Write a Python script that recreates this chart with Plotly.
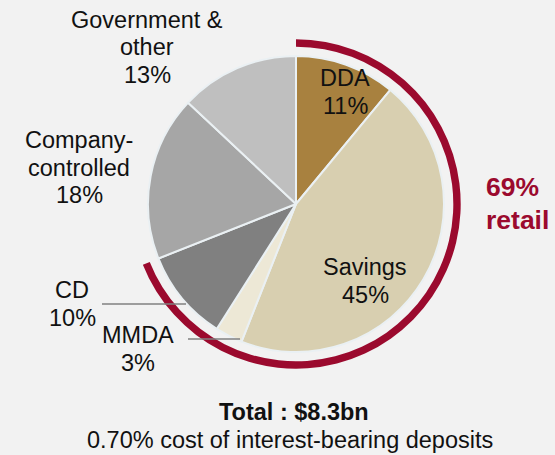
import plotly.graph_objects as go

# ---- data ----
categories = ["DDA", "Savings", "MMDA", "CD", "Company-controlled", "Government & other"]
values = [11, 45, 3, 10, 18, 13]
colors = ["#A8813F", "#D8CFB0", "#EDE8D6", "#808080", "#A6A6A6", "#BFBFBF"]
retail_categories = ["DDA", "Savings", "MMDA", "CD"]
total_label = "Total : $8.3bn"
cost_label = "0.70% cost of interest-bearing deposits"

retail_share = sum(v for c, v in zip(categories, values) if c in retail_categories)
other_share = sum(values) - retail_share

W, H = 555, 455
FONT = "Liberation Sans, Arial, sans-serif"
RED = "#9B0A2E"
FS = 23.5


def px(x):
    return x / W


def py(y):
    return 1 - y / H


cx, cy, r = 296, 204, 148
ring_out, ring_in = 164.7, 157.3

fig = go.Figure()

fig.add_trace(go.Pie(
    values=[retail_share, other_share],
    labels=["retail", "non-retail"],
    marker=dict(colors=[RED, "rgba(0,0,0,0)"], line=dict(width=0)),
    sort=False, direction="clockwise", rotation=0,
    hole=ring_in / ring_out,
    textinfo="none", hoverinfo="skip", showlegend=False,
    domain=dict(x=[px(cx - ring_out), px(cx + ring_out)],
                y=[py(cy + ring_out), py(cy - ring_out)]),
))

fig.add_trace(go.Pie(
    values=values,
    labels=categories,
    marker=dict(colors=colors, line=dict(color="#EAF0F3", width=2)),
    sort=False, direction="clockwise", rotation=0,
    textinfo="none", showlegend=False,
    domain=dict(x=[px(cx - r), px(cx + r)], y=[py(cy + r), py(cy - r)]),
))

# label layout: category -> (text lines, center x, first line y)
pct = {c: f"{v}%" for c, v in zip(categories, values)}
label_layout = [
    (["Government &", "other", pct["Government & other"]], 147, 20),
    (["Company-", "controlled", pct["Company-controlled"]], 79, 140),
    (["CD", pct["CD"]], 72, 290),
    (["MMDA", pct["MMDA"]], 138, 335),
    (["DDA", pct["DDA"]], 345, 78),
    (["Savings", pct["Savings"]], 365, 267),
]
LS = 27.5
annotations = []
for lines, x, y0 in label_layout:
    for i, t in enumerate(lines):
        annotations.append(dict(
            text=t, x=px(x), y=py(y0 + i * LS), xref="paper", yref="paper",
            xanchor="center", yanchor="middle", showarrow=False,
            font=dict(family=FONT, size=FS, color="#111111")))

for i, t in enumerate([f"{retail_share}%", "retail"]):
    annotations.append(dict(
        text=f"<b>{t}</b>", x=px(484), y=py(187 + i * 33), xref="paper", yref="paper",
        xanchor="left", yanchor="middle", showarrow=False,
        font=dict(family=FONT, size=26.5, color=RED)))

annotations.append(dict(
    text=f"<b>{total_label}</b>", x=px(294), y=py(412), xref="paper", yref="paper",
    xanchor="center", yanchor="middle", showarrow=False,
    font=dict(family=FONT, size=23.5, color="#111111")))
annotations.append(dict(
    text=cost_label, x=px(290), y=py(440), xref="paper", yref="paper",
    xanchor="center", yanchor="middle", showarrow=False,
    font=dict(family=FONT, size=FS, color="#111111")))

shapes = [
    dict(type="line", xref="paper", yref="paper", x0=px(102), x1=px(186),
         y0=py(304), y1=py(304), line=dict(color="#808080", width=1.5)),
    dict(type="line", xref="paper", yref="paper", x0=px(188), x1=px(240),
         y0=py(339), y1=py(339), line=dict(color="#808080", width=1.5)),
]

fig.update_layout(
    width=W, height=H,
    margin=dict(l=0, r=0, t=0, b=0),
    paper_bgcolor="#F2F2F2", plot_bgcolor="#F2F2F2",
    annotations=annotations, shapes=shapes,
    showlegend=False,
)

fig.write_html(
    "out.html",
    config={"displayModeBar": False},
    post_script="document.body.style.margin='0';document.body.style.overflow='hidden';",
)
